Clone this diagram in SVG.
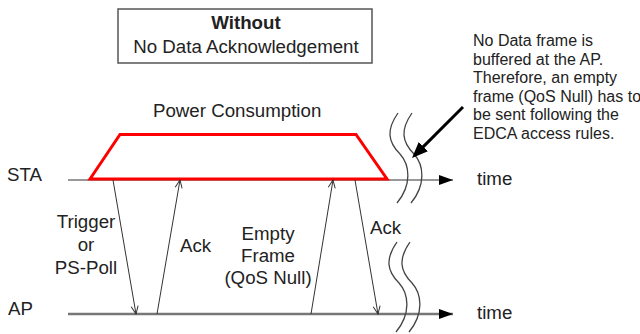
<svg xmlns="http://www.w3.org/2000/svg" xmlns:xlink="http://www.w3.org/1999/xlink" width="640" height="334" viewBox="0 0 640 334">
<style>
text{font-family:"Liberation Sans",Arial,sans-serif;fill:#222}
.big{font-size:18.7px}
.note{font-size:16px}
.msg{stroke:#333;stroke-width:1;fill:none;marker-end:url(#open)}
.sq{fill:none;stroke:#444;stroke-width:1.3}
</style>
<defs>
<marker id="tri" viewBox="0 0 14 10" refX="14" refY="5" markerWidth="14" markerHeight="10" markerUnits="userSpaceOnUse" orient="auto"><path d="M0,0 L14,5 L0,10 z" fill="#000"/></marker>
<marker id="open" viewBox="-1 -1 10 9" refX="8" refY="3.5" markerWidth="10" markerHeight="9" markerUnits="userSpaceOnUse" orient="auto"><path d="M0,0 L8,3.5 L0,7" fill="none" stroke="#333" stroke-width="1"/></marker>
<marker id="bigtri" viewBox="0 0 16 13" refX="2" refY="6.5" markerWidth="16" markerHeight="13" markerUnits="userSpaceOnUse" orient="auto"><path d="M0,0 L16,6.5 L0,13 z" fill="#000"/></marker>
<path id="sq" d="M398,113 C386,130 388,142 400,154 C410,165 412,185 397,203"/>
</defs>
<g id="title">
<rect x="118" y="9" width="254" height="54" fill="#fff" stroke="#555" stroke-width="1.5"/>
<text class="big" x="246" y="29" text-anchor="middle" font-weight="bold">Without</text>
<text class="big" x="246" y="53" text-anchor="middle">No Data Acknowledgement</text>
</g>
<g id="note">
<text class="note" x="473" y="46">No Data frame is</text>
<text class="note" x="473" y="64.6">buffered at the AP.</text>
<text class="note" x="473" y="83.2">Therefore, an empty</text>
<text class="note" x="473" y="101.8">frame (QoS Null) has to</text>
<text class="note" x="473" y="120.4">be sent following the</text>
<text class="note" x="473" y="139">EDCA access rules.</text>
</g>
<g id="sta">
<text class="big" x="7" y="181">STA</text>
<line x1="68" y1="180" x2="453" y2="180" stroke="#333" stroke-width="1" marker-end="url(#tri)"/>
<text class="big" x="477" y="185">time</text>
</g>
<g id="ap">
<text class="big" x="8" y="315">AP</text>
<line x1="68" y1="314" x2="453" y2="314" stroke="#777" stroke-width="2.3" marker-end="url(#tri)"/>
<text class="big" x="477" y="319">time</text>
</g>
<g id="power">
<text class="big" x="153" y="117">Power Consumption</text>
<path d="M90,179 L120,134.5 L356,134.5 L387,179 Z" fill="none" stroke="#f00" stroke-width="3" stroke-linejoin="miter"/>
</g>
<g id="breaks">
<use xlink:href="#sq" href="#sq" class="sq"/>
<use xlink:href="#sq" href="#sq" class="sq" transform="translate(14,0)"/>
<use xlink:href="#sq" href="#sq" class="sq" transform="translate(-1,129)"/>
<use xlink:href="#sq" href="#sq" class="sq" transform="translate(12,129)"/>
</g>
<g id="connectors">
<line class="msg" x1="113" y1="180" x2="136" y2="314"/>
<line class="msg" x1="157" y1="314" x2="180" y2="180"/>
<line class="msg" x1="311" y1="314" x2="333" y2="180"/>
<line class="msg" x1="355" y1="180" x2="378" y2="314"/>
<line x1="463" y1="107" x2="421.9" y2="148.1" stroke="#000" stroke-width="3" marker-end="url(#bigtri)"/>
</g>
<g id="labels">
<text class="big" x="86" y="228" text-anchor="middle">Trigger</text>
<text class="big" x="86" y="251" text-anchor="middle">or</text>
<text class="big" x="86" y="274" text-anchor="middle">PS-Poll</text>
<text class="big" x="180" y="252">Ack</text>
<text class="big" x="268" y="240" text-anchor="middle">Empty</text>
<text class="big" x="268" y="262" text-anchor="middle">Frame</text>
<text class="big" x="268" y="284" text-anchor="middle">(QoS Null)</text>
<text class="big" x="370" y="233.5">Ack</text>
</g>
</svg>
